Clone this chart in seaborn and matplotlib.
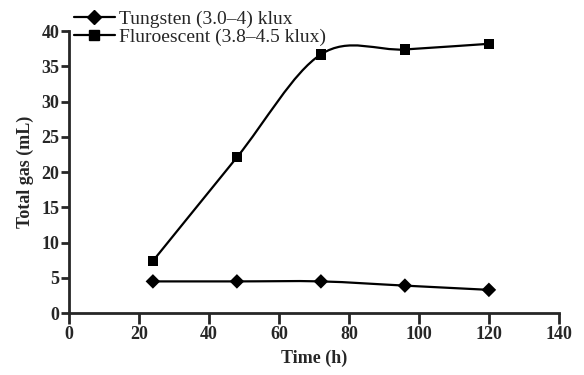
import numpy as np
import pandas as pd
import matplotlib
matplotlib.use('Agg')
import matplotlib.pyplot as plt
from matplotlib.path import Path
from matplotlib.patches import PathPatch
from matplotlib.lines import Line2D
import seaborn as sns

# DATA
time_h = [24, 48, 72, 96, 120]
tungsten_gas = [4.5, 4.5, 4.5, 3.9, 3.3]
fluorescent_gas = [7.4, 22.1, 36.7, 37.4, 38.2]
series_names = ['Tungsten (3.0\u20134) klux', 'Fluroescent (3.8\u20134.5 klux)']
series_markers = ['D', 's']

x_ticks = [0, 20, 40, 60, 80, 100, 120, 140]
y_ticks = [0, 5, 10, 15, 20, 25, 30, 35, 40]

df = pd.DataFrame({
    'Time': time_h * 2,
    'Gas': tungsten_gas + fluorescent_gas,
    'Series': [series_names[0]] * len(time_h) + [series_names[1]] * len(time_h),
})


def spline_path(xs, ys):
    # smooth curve through the points (Catmull-Rom as cubic Bezier)
    pts = np.column_stack([xs, ys]).astype(float)
    n = len(pts)
    verts = [pts[0]]
    codes = [Path.MOVETO]
    for i in range(n - 1):
        p0 = pts[i - 1] if i > 0 else pts[i]
        p1 = pts[i]
        p2 = pts[i + 1]
        p3 = pts[i + 2] if i + 2 < n else pts[i + 1]
        c1 = p1 + (p2 - p0) / 6.0
        c2 = p2 - (p3 - p1) / 6.0
        verts += [c1, c2, p2]
        codes += [Path.CURVE4] * 3
    return Path(verts, codes)


sns.set_style('ticks')
plt.rcParams['font.family'] = ['Liberation Serif', 'DejaVu Serif']

fig = plt.figure(figsize=(5.84, 3.75), dpi=100)
ax = fig.add_axes([0.118, 0.165, 0.839, 0.752])

for name, ys in zip(series_names, [tungsten_gas, fluorescent_gas]):
    ax.add_patch(PathPatch(spline_path(time_h, ys), facecolor='none',
                           edgecolor='black', lw=1.6, zorder=2))

sns.scatterplot(
    data=df,
    x='Time',
    y='Gas',
    style='Series',
    markers=dict(zip(series_names, series_markers)),
    s=55,
    color='black',
    edgecolor='black',
    linewidth=0,
    legend=False,
    zorder=3,
    ax=ax
)

ax.set_xlim(0, 140)
ax.set_ylim(0, 40)
ax.set_xticks(x_ticks)
ax.set_yticks(y_ticks)

for lab in ax.get_xticklabels() + ax.get_yticklabels():
    lab.set_fontweight('bold')
    lab.set_fontsize(13)

ax.tick_params(axis='x', direction='out', length=8, width=2, pad=1)
ax.tick_params(axis='y', direction='out', length=6, width=2, pad=1)

ax.set_xlabel('Time (h)', fontsize=13, fontweight='bold', labelpad=5)
ax.set_ylabel('Total gas (mL)', fontsize=13, fontweight='bold', labelpad=5)

sns.despine(ax=ax)
ax.spines['left'].set_linewidth(2)
ax.spines['bottom'].set_linewidth(2)

handles = [
    Line2D([0], [0], color='black', lw=1.6, marker=m, markersize=7)
    for m in series_markers
]
ax.legend(
    handles,
    series_names,
    loc='upper left',
    bbox_to_anchor=(0.01, 1.075),
    frameon=False,
    fontsize=14,
    handlelength=2.1,
    handletextpad=0.2,
    labelspacing=0.02,
    borderaxespad=0,
    borderpad=0
)

plt.savefig('out.png', dpi=100)
